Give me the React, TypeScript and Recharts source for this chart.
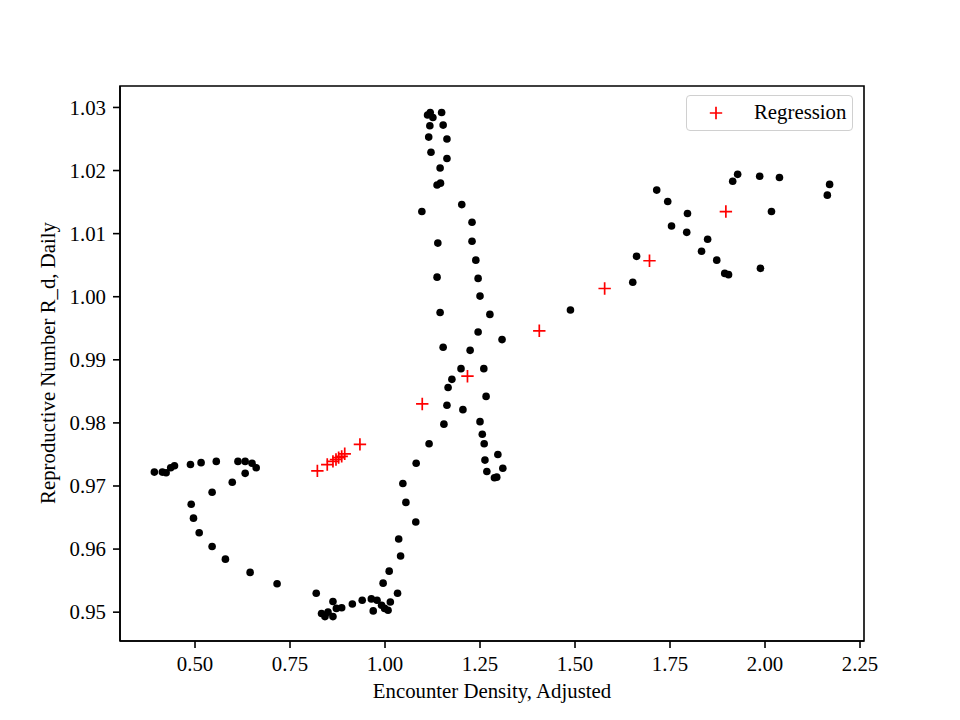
import React from 'react';
import { ScatterChart, Scatter, XAxis, YAxis, ReferenceArea } from 'recharts';

const observedX = [
  0.393, 0.414, 0.424, 0.436, 0.446, 0.488, 0.516, 0.556, 0.613, 0.632, 0.650, 0.661, 0.632, 0.598, 0.545,
  0.490, 0.496, 0.511, 0.545, 0.580, 0.645, 0.716, 0.819, 0.863, 0.833, 0.842, 0.850, 0.863, 0.872, 0.886,
  0.914, 0.940, 0.964, 0.979, 0.991, 0.969, 0.999, 1.008, 1.014, 1.033, 0.995, 1.011, 1.041, 1.036, 1.081,
  1.055, 1.047, 1.082, 1.116, 1.155, 1.163, 1.205, 1.166, 1.176, 1.200, 1.260, 1.224, 1.153, 1.308, 1.245,
  1.276, 1.145, 1.250, 1.245, 1.137, 1.239, 1.229, 1.139, 1.229, 1.097, 1.202, 1.137, 1.146, 1.145, 1.163,
  1.121, 1.163, 1.115, 1.153, 1.118, 1.119, 1.112, 1.126, 1.149, 1.266, 1.250, 1.256, 1.261, 1.297, 1.263,
  1.310, 1.268, 1.294, 1.288, 1.488, 1.652, 1.662, 1.715, 1.744, 1.796, 1.754, 1.794, 1.849, 1.833, 1.873,
  1.894, 1.904, 1.988, 2.017, 1.915, 1.928, 1.986, 2.038, 2.170, 2.164,
];
const observedY = [
  0.9722, 0.9722, 0.9721, 0.9729, 0.9732, 0.9734, 0.9737, 0.9739, 0.9739, 0.9739, 0.9736, 0.9729, 0.9720, 0.9706, 0.9690,
  0.9671, 0.9649, 0.9626, 0.9604, 0.9584, 0.9563, 0.9545, 0.9530, 0.9517, 0.9498, 0.9493, 0.9500, 0.9493, 0.9506, 0.9507,
  0.9513, 0.9519, 0.9521, 0.9519, 0.9511, 0.9502, 0.9506, 0.9503, 0.9516, 0.9530, 0.9546, 0.9565, 0.9589, 0.9616, 0.9643,
  0.9674, 0.9704, 0.9736, 0.9767, 0.9798, 0.9828, 0.9821, 0.9856, 0.9869, 0.9886, 0.9886, 0.9915, 0.9920, 0.9932, 0.9944,
  0.9972, 0.9975, 1.0001, 1.0029, 1.0031, 1.0058, 1.0088, 1.0085, 1.0118, 1.0135, 1.0146, 1.0177, 1.0180, 1.0204, 1.0219,
  1.0229, 1.0250, 1.0253, 1.0272, 1.0271, 1.0292, 1.0288, 1.0284, 1.0292, 0.9842, 0.9802, 0.9782, 0.9767, 0.9750, 0.9741,
  0.9728, 0.9723, 0.9714, 0.9713, 0.9979, 1.0023, 1.0064, 1.0169, 1.0151, 1.0132, 1.0112, 1.0102, 1.0091, 1.0072, 1.0058,
  1.0037, 1.0035, 1.0045, 1.0135, 1.0183, 1.0194, 1.0191, 1.0189, 1.0178, 1.0161,
];
const regressionX = [0.822, 0.848, 0.863, 0.871, 0.878, 0.886, 0.894, 0.934, 1.098, 1.217, 1.406, 1.578, 1.696, 1.897];
const regressionY = [0.9724, 0.9734, 0.9739, 0.9742, 0.9745, 0.9747, 0.9751, 0.9766, 0.9830, 0.9874, 0.9946, 1.0013, 1.0057, 1.0135];

const xTicks = [0.5, 0.75, 1.0, 1.25, 1.5, 1.75, 2.0, 2.25];
const yTicks = [0.95, 0.96, 0.97, 0.98, 0.99, 1.0, 1.01, 1.02, 1.03];
const xDomain = [0.3026, 2.2605];
const yDomain = [0.94543, 1.0334];
const xLabel = 'Encounter Density, Adjusted';
const yLabel = 'Reproductive Number R_d, Daily';
const seriesName = 'Regression';

const observed = observedX.map((x, i) => ({ x, y: observedY[i] }));
const regression = regressionX.map((x, i) => ({ x, y: regressionY[i] }));

const FONT = '"Liberation Serif", "Times New Roman", serif';
const FS = 20.8;

const Dot = (props: any) => <circle cx={props.cx} cy={props.cy} r={3.8} fill="#000" />;
const Plus = (props: any) => {
  const { cx, cy } = props;
  return <path d={`M${cx - 6.2},${cy}H${cx + 6.2}M${cx},${cy - 6.2}V${cy + 6.2}`} stroke="#ff0000" strokeWidth={1.7} fill="none" />;
};

const XTick = (props: any) => (
  <text x={props.x} y={props.y} dy="0.75em" textAnchor="middle" fontSize={FS} fontFamily={FONT} fill="#000" style={{ fontFamily: FONT }}>
    {Number(props.payload.value).toFixed(2)}
  </text>
);
const YTick = (props: any) => (
  <text x={props.x} y={props.y} dy="0.35em" textAnchor="end" fontSize={FS} fontFamily={FONT} fill="#000" style={{ fontFamily: FONT }}>
    {Number(props.payload.value).toFixed(2)}
  </text>
);

const LegendBox = () => (
  <div
    style={{
      position: 'absolute',
      left: 686,
      top: 95,
      width: 167,
      height: 36,
      border: '1.5px solid #d0d0d0',
      borderRadius: 4,
      background: 'rgba(255,255,255,0.8)',
      fontFamily: FONT,
      fontSize: FS,
      boxSizing: 'border-box',
    }}
  >
    <svg width={30} height={30} style={{ position: 'absolute', left: 14, top: 2 }}>
      <path d="M8.8,15H21.2M15,8.8V21.2" stroke="#ff0000" strokeWidth={1.7} />
    </svg>
    <span style={{ position: 'absolute', left: 67, top: 4, lineHeight: '24px', color: '#000' }}>{seriesName}</span>
  </div>
);

const axisLine = { stroke: '#000', strokeWidth: 1.6 };

export default function App() {
  return (
    <div style={{ position: 'absolute', left: 0, top: 0, width: 960, height: 720, background: '#fff', fontFamily: FONT }}>
      <ScatterChart
        width={960}
        height={720}
        margin={{ top: 86, right: 96, bottom: 0, left: 0 }}
        style={{ fontFamily: FONT }}
      >
        <XAxis
          type="number"
          dataKey="x"
          domain={xDomain}
          ticks={xTicks}
          allowDataOverflow
          height={79}
          tickSize={7}
          tickMargin={7}
          tick={<XTick />}
          tickLine={axisLine}
          axisLine={axisLine}
          label={{
            content: () => (
              <text x={492} y={698} textAnchor="middle" fontSize={FS} fontFamily={FONT} fill="#000">
                {xLabel}
              </text>
            ),
          }}
        />
        <YAxis
          type="number"
          dataKey="y"
          domain={yDomain}
          ticks={yTicks}
          allowDataOverflow
          width={120}
          tickSize={7}
          tickMargin={7}
          tick={<YTick />}
          tickLine={axisLine}
          axisLine={axisLine}
          label={{
            content: () => (
              <text
                x={55}
                y={363}
                textAnchor="middle"
                fontSize={FS}
                fontFamily={FONT}
                fill="#000"
                transform="rotate(-90 55 363)"
              >
                {yLabel}
              </text>
            ),
          }}
        />
        <ReferenceArea
          x1={xDomain[0]}
          x2={xDomain[1]}
          y1={yDomain[0]}
          y2={yDomain[1]}
          fill="none"
          fillOpacity={0}
          stroke="#000"
          strokeWidth={1.6}
          strokeOpacity={1}
          ifOverflow="visible"
        />
        <Scatter name="Observed" data={observed} shape={Dot} isAnimationActive={false} />
        <Scatter name={seriesName} data={regression} shape={Plus} isAnimationActive={false} />
      </ScatterChart>
      <LegendBox />
    </div>
  );
}
